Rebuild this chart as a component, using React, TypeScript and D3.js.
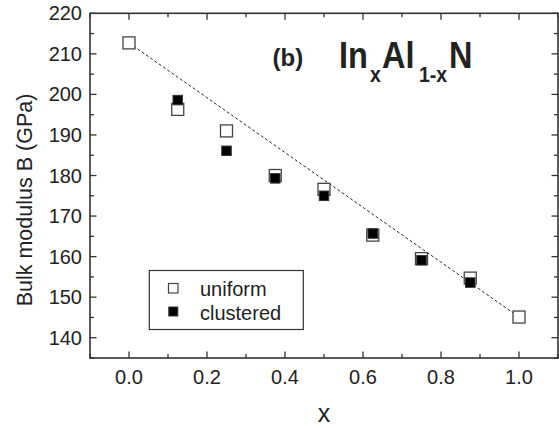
import React from "react";
import * as d3 from "d3";

// Indium fraction x in InxAl1-xN
const xUniform = [0, 0.125, 0.25, 0.375, 0.5, 0.625, 0.75, 0.875, 1.0];
const bUniform = [212.7, 196.3, 191.0, 180.0, 176.6, 165.3, 159.5, 154.7, 145.1];
const xClustered = [0.125, 0.25, 0.375, 0.5, 0.625, 0.75, 0.875];
const bClustered = [198.6, 186.1, 179.3, 175.0, 165.7, 159.1, 153.6];
// Linear interpolation between the binary end members
const vegardX = [0, 1];
const vegardB = [212.7, 145.1];

const xTicks = [0.0, 0.2, 0.4, 0.6, 0.8, 1.0];
const yTicks = [140, 150, 160, 170, 180, 190, 200, 210, 220];
const legendLabels = ["uniform", "clustered"];

const W = 559;
const H = 428;
const M = { left: 90, right: 558, top: 13.3, bottom: 358 };
const FONT = "'Liberation Sans', Arial, Helvetica, sans-serif";
const AXIS = "#333";

export default function App() {
  const x = d3.scaleLinear().domain([-0.1, 1.1]).range([M.left, M.right]);
  const y = d3.scaleLinear().domain([135, 220]).range([M.bottom, M.top]);

  const xMinor = d3.range(-0.1, 1.1001, 0.1).map((v) => +v.toFixed(2));
  const yMinor = d3.range(135, 220.01, 5);

  const line = d3
    .line<number>()
    .x((_, i) => x(vegardX[i]))
    .y((d) => y(d));

  const majLen = 6.5;
  const minLen = 4;

  const sqU = 12;
  const sqC = 9.5;

  return (
    <svg
      width={W}
      height={H}
      style={{ position: "absolute", left: 0, top: 0, background: "#fff" }}
      fontFamily={FONT}
    >
      {/* tick marks on all four sides, pointing inward */}
      <g stroke={AXIS} strokeWidth={1.3}>
        {xMinor.map((v, i) => {
          const major = xTicks.some((t) => Math.abs(t - v) < 1e-6);
          const L = major ? majLen : minLen;
          const px = x(v);
          return (
            <g key={"xt" + i}>
              <line x1={px} x2={px} y1={M.bottom} y2={M.bottom - L} />
              <line x1={px} x2={px} y1={M.top} y2={M.top + L} />
            </g>
          );
        })}
        {yMinor.map((v, i) => {
          const major = yTicks.includes(v);
          const L = major ? majLen : minLen;
          const py = y(v);
          return (
            <g key={"yt" + i}>
              <line x1={M.left} x2={M.left + L} y1={py} y2={py} />
              <line x1={M.right} x2={M.right - L} y1={py} y2={py} />
            </g>
          );
        })}
      </g>
      <rect
        x={M.left}
        y={M.top}
        width={M.right - M.left}
        height={M.bottom - M.top}
        fill="none"
        stroke={AXIS}
        strokeWidth={1.6}
      />

      {/* tick labels */}
      <g fill="#222" fontSize={20}>
        {xTicks.map((t) => (
          <text key={"xl" + t} x={x(t)} y={384} textAnchor="middle">
            {d3.format(".1f")(t)}
          </text>
        ))}
        {yTicks.map((t) => (
          <text key={"yl" + t} x={82} y={y(t) + 7} textAnchor="end">
            {t}
          </text>
        ))}
      </g>

      {/* axis titles */}
      <text x={324} y={421.5} textAnchor="middle" fontSize={25} fill="#222">
        x
      </text>
      <text
        transform={`translate(32,200) rotate(-90)`}
        textAnchor="middle"
        fontSize={21.5}
        fill="#222"
      >
        Bulk modulus B (GPa)
      </text>

      {/* Vegard's law line */}
      <path
        d={line(vegardB) || ""}
        fill="none"
        stroke="#111"
        strokeWidth={0.9}
        strokeDasharray="3,2.2"
      />

      {/* uniform: open squares */}
      {xUniform.map((v, i) => (
        <rect
          key={"u" + i}
          x={x(v) - sqU / 2}
          y={y(bUniform[i]) - sqU / 2}
          width={sqU}
          height={sqU}
          fill="#fff"
          stroke="#444"
          strokeWidth={1.3}
        />
      ))}
      {/* clustered: filled squares */}
      {xClustered.map((v, i) => (
        <rect
          key={"c" + i}
          x={x(v) - sqC / 2}
          y={y(bClustered[i]) - sqC / 2}
          width={sqC}
          height={sqC}
          fill="#000"
          stroke="#333"
          strokeWidth={1}
        />
      ))}

      {/* panel annotation */}
      <text x={272.5} y={66} fontSize={24} fontWeight="bold" fill="#222">
        (b)
      </text>
      <g transform="translate(0,68) scale(1,1.13)">
        <text y={0} fontWeight="bold" fill="#222">
          <tspan x={339} fontSize={32.5}>In</tspan>
          <tspan x={370} dy={12} fontSize={19.5}>x</tspan>
          <tspan x={382} dy={-12} fontSize={32.5}>Al</tspan>
          <tspan x={419} dy={12} fontSize={19.5}>1-x</tspan>
          <tspan x={449} dy={-12} fontSize={32.5}>N</tspan>
        </text>
      </g>

      {/* legend */}
      <rect
        x={149.3}
        y={270.5}
        width={154}
        height={59}
        fill="#fff"
        stroke={AXIS}
        strokeWidth={1.2}
      />
      <rect x={168.5} y={283.5} width={9.5} height={9.5} fill="#fff" stroke="#444" strokeWidth={1.2} />
      <rect x={168.8} y={307} width={9} height={9} fill="#000" stroke="#333" strokeWidth={1} />
      <g fontSize={20} fill="#222">
        <text x={200} y={296}>{legendLabels[0]}</text>
        <text x={200} y={319.5}>{legendLabels[1]}</text>
      </g>
    </svg>
  );
}
